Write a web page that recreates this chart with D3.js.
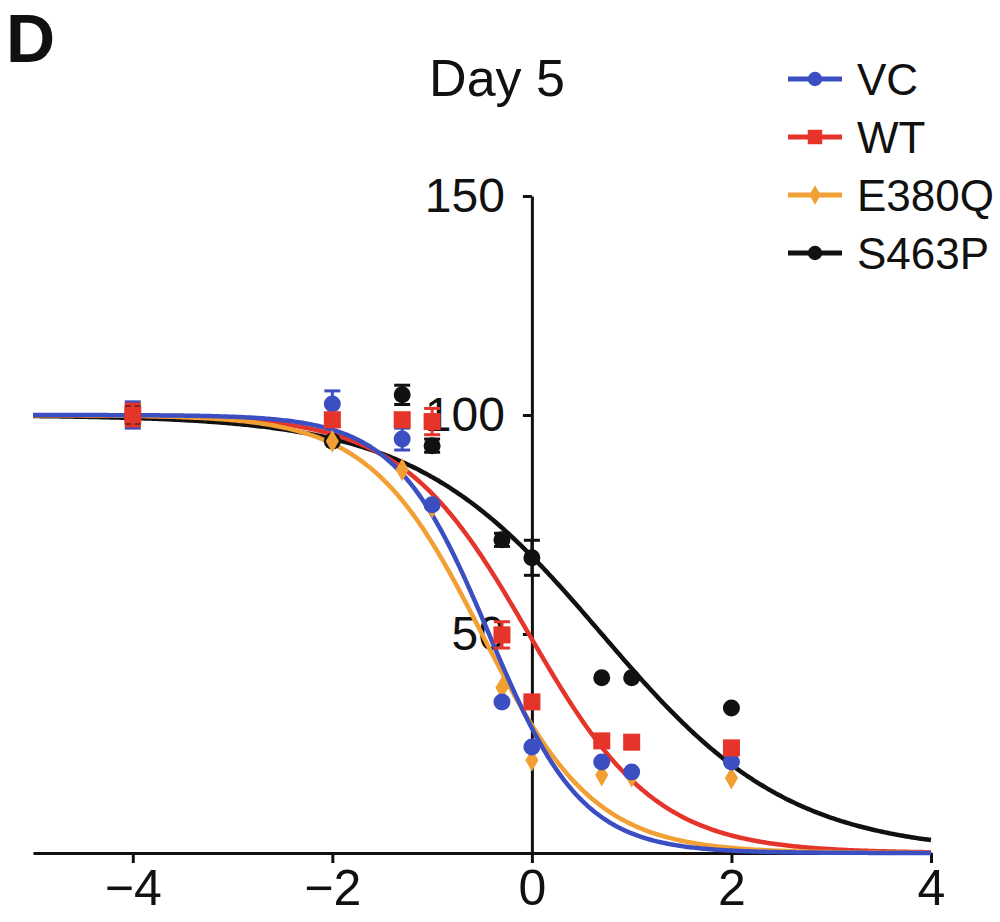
<!DOCTYPE html>
<html>
<head>
<meta charset="utf-8">
<script src="https://cdn.jsdelivr.net/npm/d3@7"></script>
<style>
  body { margin: 0; background: #fff; }
  text { font-family: "Liberation Sans", Arial, sans-serif; fill: #111; }
</style>
</head>
<body>
<div id="chart"></div>
<script>
// log concentration for each dose
var doses = [-4, -2, -1.3, -1, -0.3, 0, 0.7, 1, 2];

// mean values per line
var vcVals    = [100, 102.5, 94.5, 79.5, 34.5, 24.2, 20.8, 18.5, 20.8];
var wtVals    = [100, 98.9, 98.9, 98.5, 49.8, 34.5, 25.6, 25.3, 24.0];
var e380qVals = [100, 94.0, 87.5, 79.0, 37.7, 21.2, 17.8, 17.5, 17.1];
var s463pVals = [100, 94.0, 104.6, 93.0, 71.5, 67.4, 40.0, 40.0, 33.1];

// error (sem) per point, 0 = hidden behind the marker
var vcErr    = [3, 3, 2.5, 0, 0, 0, 0, 0, 0];
var wtErr    = [2.5, 1.5, 1.5, 3, 3, 0, 0, 0, 0];
var e380qErr = [1.5, 0, 0, 0, 0, 0, 0, 0, 0];
var s463pErr = [2, 0, 2.2, 1.5, 1.5, 4, 0, 0, 0];

// fitted curves: log IC50 and hill slope (top 100, bottom 0)
var logIC50 = [-0.43, -0.03, -0.5, 0.7];
var hill    = [0.93, 0.68, 0.77, 0.46];

var names  = ['VC', 'WT', 'E380Q', 'S463P'];
var xTicks = [-4, -2, 0, 2, 4];
var yTicks = [50, 100, 150];

var colors = { VC: '#3b4fc2', WT: '#e5342a', E380Q: '#f2a033', S463P: '#111111' };

var width = 1000, height = 922;

var svg = d3.select('#chart').append('svg')
  .attr('width', width).attr('height', height);

var x = d3.scaleLinear().domain([-5, 4]).range([33, 931]);
var y = d3.scaleLinear().domain([0, 150]).range([853, 196]);

// panel letter and title
svg.append('text').attr('x', 6).attr('y', 62)
  .style('font-size', '68px').style('font-weight', 'bold').text('D');
svg.append('text').attr('x', 497).attr('y', 96).attr('text-anchor', 'middle')
  .style('font-size', '52px').text('Day 5');

// x axis
var xAxis = svg.append('g').attr('transform', 'translate(0,' + y(0) + ')')
  .call(d3.axisBottom(x).tickValues(xTicks).tickSize(10).tickSizeOuter(0).tickPadding(6));
xAxis.selectAll('text').style('font-size', '50px').attr('fill', '#111');

// y axis sits at x = 0
var yAxis = svg.append('g').attr('transform', 'translate(' + x(0) + ',0)')
  .call(d3.axisLeft(y).tickValues(yTicks).tickSize(9).tickSizeOuter(0).tickPadding(18));
yAxis.selectAll('text').style('font-size', '48px').attr('fill', '#111');

svg.selectAll('.domain, .tick line').attr('stroke', '#111').attr('stroke-width', 3);

// fitted curves
var curveX = d3.range(-5, 4.0001, 0.02);
var line = d3.line().x(function(d){ return x(d[0]); }).y(function(d){ return y(d[1]); });
var drawOrder = [3, 1, 2, 0];
drawOrder.forEach(function(i){
  var pts = curveX.map(function(v){
    return [v, 100 / (1 + Math.pow(10, (v - logIC50[i]) * hill[i]))];
  });
  svg.append('path').datum(pts).attr('d', line)
    .attr('fill', 'none').attr('stroke', colors[names[i]]).attr('stroke-width', 4.5);
});

// data points with error bars
var series = {
  VC: { vals: vcVals, err: vcErr },
  WT: { vals: wtVals, err: wtErr },
  E380Q: { vals: e380qVals, err: e380qErr },
  S463P: { vals: s463pVals, err: s463pErr }
};

function marker(g, name, cx, cy, s) {
  var c = colors[name];
  if (name == 'WT') {
    g.append('rect').attr('x', cx - 8.5 * s).attr('y', cy - 8.5 * s)
      .attr('width', 17 * s).attr('height', 17 * s).attr('fill', c);
  } else if (name == 'E380Q') {
    g.append('path').attr('d', d3.symbol().type(d3.symbolDiamond).size(150 * s * s)())
      .attr('transform', 'translate(' + cx + ',' + cy + ')').attr('fill', c);
  } else {
    g.append('circle').attr('cx', cx).attr('cy', cy).attr('r', 8.5 * s).attr('fill', c);
  }
}

['S463P', 'E380Q', 'VC', 'WT'].forEach(function(name){
  var g = svg.append('g');
  var s = series[name];
  doses.forEach(function(dv, j){
    var cx = x(dv), cy = y(s.vals[j]);
    if (s.err[j] > 0) {
      var top = y(s.vals[j] + s.err[j]), bot = y(s.vals[j] - s.err[j]);
      g.append('line').attr('x1', cx).attr('x2', cx).attr('y1', top).attr('y2', bot)
        .attr('stroke', colors[name]).attr('stroke-width', 3);
      [top, bot].forEach(function(yy){
        g.append('line').attr('x1', cx - 8).attr('x2', cx + 8).attr('y1', yy).attr('y2', yy)
          .attr('stroke', colors[name]).attr('stroke-width', 3);
      });
    }
    marker(g, name, cx, cy, 1);
  });
});

// legend
var legend = svg.append('g');
names.forEach(function(name, i){
  var ly = 79 + i * 58;
  legend.append('line').attr('x1', 788).attr('x2', 842).attr('y1', ly).attr('y2', ly)
    .attr('stroke', colors[name]).attr('stroke-width', 5);
  marker(legend, name, 815, ly, 0.85);
  legend.append('text').attr('x', 857).attr('y', ly).attr('dy', '0.36em')
    .style('font-size', '44px').text(name);
});
</script>
</body>
</html>
